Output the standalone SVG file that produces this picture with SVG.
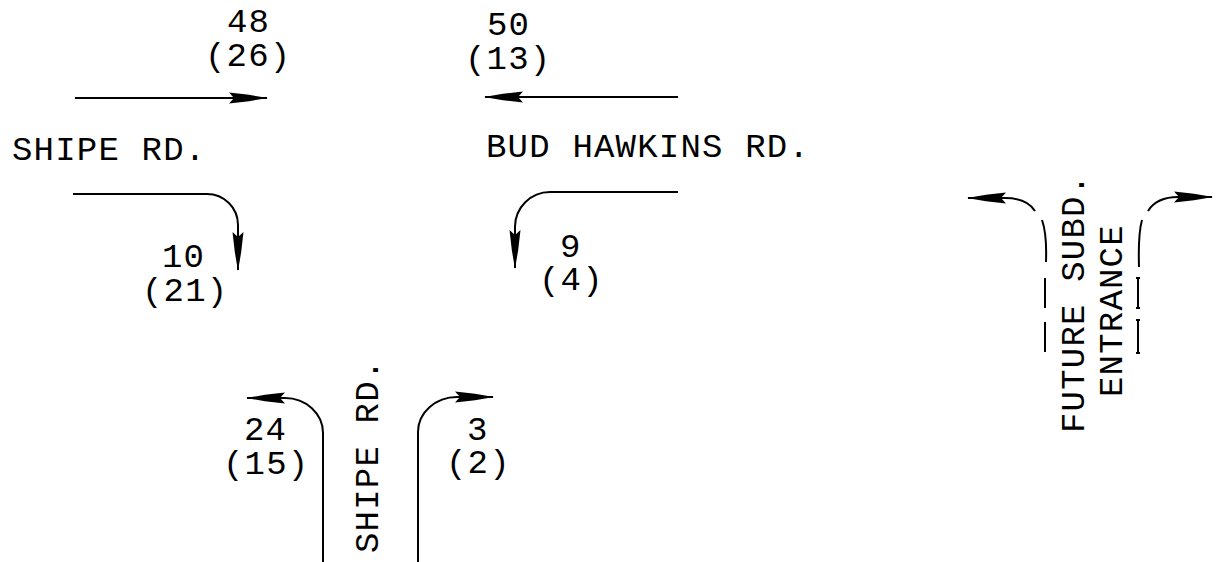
<svg xmlns="http://www.w3.org/2000/svg" width="1216" height="562" viewBox="0 0 1216 562">
<style>
text{font-family:"Liberation Mono","DejaVu Sans Mono",monospace;font-size:34px;letter-spacing:1.2px;fill:#000}
.ln{fill:none;stroke:#000;stroke-width:2}
.ar{marker-end:url(#ah)}
</style>
<defs>
<marker id="ah" viewBox="-40 -7 42 14" refX="0" refY="0" markerWidth="42" markerHeight="14" markerUnits="userSpaceOnUse" orient="auto" overflow="visible">
<path d="M1,0 L-18,-3.2 L-38,-5.5 L-33,0 L-38,5.5 L-18,3.2 Z" fill="#000"/>
</marker>
</defs>
<rect width="1216" height="562" fill="#fff"/>
<g id="labels">
<g id="shipe-west">
<text x="227" y="32">48</text>
<text x="205" y="66">(26)</text>
<text x="12" y="160">SHIPE RD.</text>
<text x="162" y="267">10</text>
<text x="142" y="301">(21)</text>
</g>
<g id="bud-hawkins">
<text x="487" y="35">50</text>
<text x="465" y="69">(13)</text>
<text x="486" y="157">BUD HAWKINS RD.</text>
<text x="560" y="257">9</text>
<text x="539" y="290">(4)</text>
</g>
<g id="shipe-south">
<text x="244" y="440">24</text>
<text x="223" y="474">(15)</text>
<text transform="translate(378,553) rotate(-90)">SHIPE RD.</text>
<text x="467" y="440">3</text>
<text x="446" y="473">(2)</text>
</g>
<g id="future-entrance">
<text transform="translate(1084,433) rotate(-90)">FUTURE SUBD.</text>
<text transform="translate(1122,397) rotate(-90)">ENTRANCE</text>
</g>
</g>
<g id="connectors">
<path class="ln ar" d="M75,98 H267"/>
<path class="ln ar" d="M678,97 H485"/>
<path class="ln ar" d="M73,194 H207 A31,31 0 0 1 238,225 V270"/>
<path class="ln ar" d="M678,192 H550 A35,35 0 0 0 515,227 V268"/>
<path class="ln ar" d="M323,562 V433 A38,35 0 0 0 285,398 H247"/>
<path class="ln ar" d="M418,562 V432 A39,35 0 0 1 457,397 H493"/>
<path class="ln ar" d="M1035,211 C1030,203 1020,198 1005,198 H968"/>
<path class="ln ar" d="M1148,211 C1153,203 1163,197 1178,197 H1212"/>
</g>
<g id="entrance-edges" class="ln">
<path d="M1042,220 Q1047,234 1046,262"/>
<path d="M1045,278 V308 M1045,322 V352"/>
<path d="M1142,220 Q1138,234 1139,267"/>
<path d="M1138,278 V308 M1138,320 V353 M1136,278 H1140 M1136,308 H1140 M1136,320 H1140 M1136,353 H1140"/>
</g>
</svg>
